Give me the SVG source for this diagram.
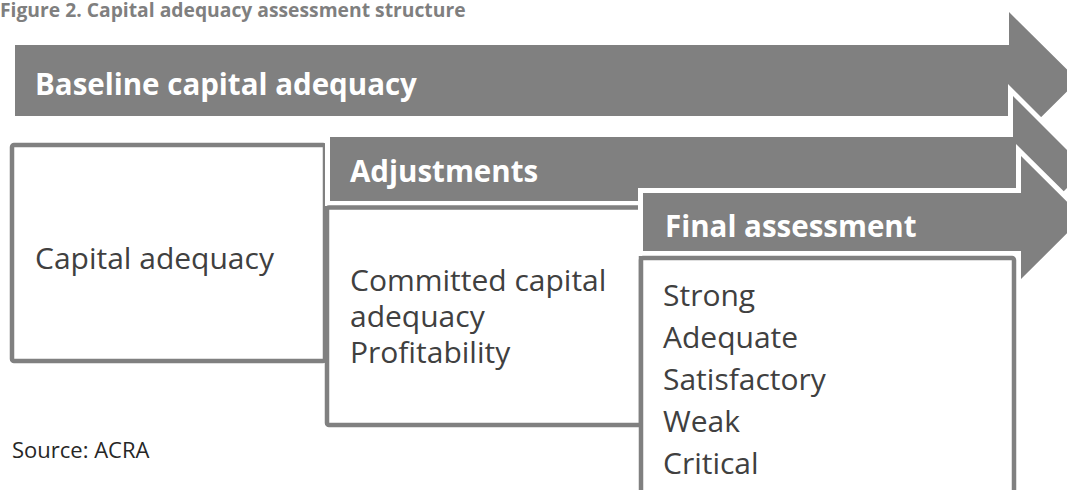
<svg xmlns="http://www.w3.org/2000/svg" width="1067" height="490" viewBox="0 0 1067 490">
  <style>
    .arrow { fill: #808080; }
    .halo { fill: #808080; stroke: #ffffff; stroke-width: 10; paint-order: stroke; stroke-linejoin: miter; }
    .box { fill: #ffffff; stroke: #808080; stroke-width: 4.5; }
    .head { font-family: "Open Sans", "Noto Sans", sans-serif; font-weight: bold; fill: #ffffff; font-size: 29.5px; }
    .body { font-family: "Open Sans", "Noto Sans", sans-serif; fill: #404040; font-size: 30px; }
    .title { font-family: "Open Sans", "Noto Sans", sans-serif; font-weight: bold; fill: #7f7f7f; font-size: 19.3px; }
    .src { font-family: "Open Sans", "Noto Sans", sans-serif; fill: #262626; font-size: 22px; }
  </style>
  <rect width="1067" height="490" fill="#ffffff"/>
  <text class="title" x="0" y="17">Figure 2. Capital adequacy assessment structure</text>

  <g id="baseline">
    <path class="arrow" d="M15,45 H1009 V12 L1078,80.5 L1009,149 V116 H15 Z"/>
    <text class="head" x="35" y="95">Baseline capital adequacy</text>
  </g>

  <g id="capital-adequacy">
    <rect class="box" x="12" y="145" width="313" height="216" rx="2"/>
    <text class="body" x="35" y="269">Capital adequacy</text>
  </g>

  <g id="adjustments">
    <path class="halo" d="M330,137 H1013 V96 L1086,169 L1013,242 V201 H330 Z"/>
    <text class="head" x="350" y="182">Adjustments</text>
  </g>

  <g id="adjustment-factors">
    <rect class="box" x="327" y="207.5" width="314" height="217.5" rx="2"/>
    <text class="body" x="350" y="291">Committed capital</text>
    <text class="body" x="350" y="327">adequacy</text>
    <text class="body" x="350" y="363">Profitability</text>
  </g>

  <g id="final-assessment">
    <path class="halo" d="M643,193 H1021 V156 L1083,217.5 L1021,279 V251 H643 Z"/>
    <text class="head" x="665" y="237">Final assessment</text>
  </g>

  <g id="final-grades">
    <rect class="box" x="641" y="258" width="373" height="280" rx="2"/>
    <text class="body" x="663" y="306">Strong</text>
    <text class="body" x="663" y="348">Adequate</text>
    <text class="body" x="663" y="390">Satisfactory</text>
    <text class="body" x="663" y="432">Weak</text>
    <text class="body" x="663" y="474">Critical</text>
  </g>

  <g id="connectors"></g>

  <text class="src" x="12" y="458">Source: ACRA</text>
</svg>
